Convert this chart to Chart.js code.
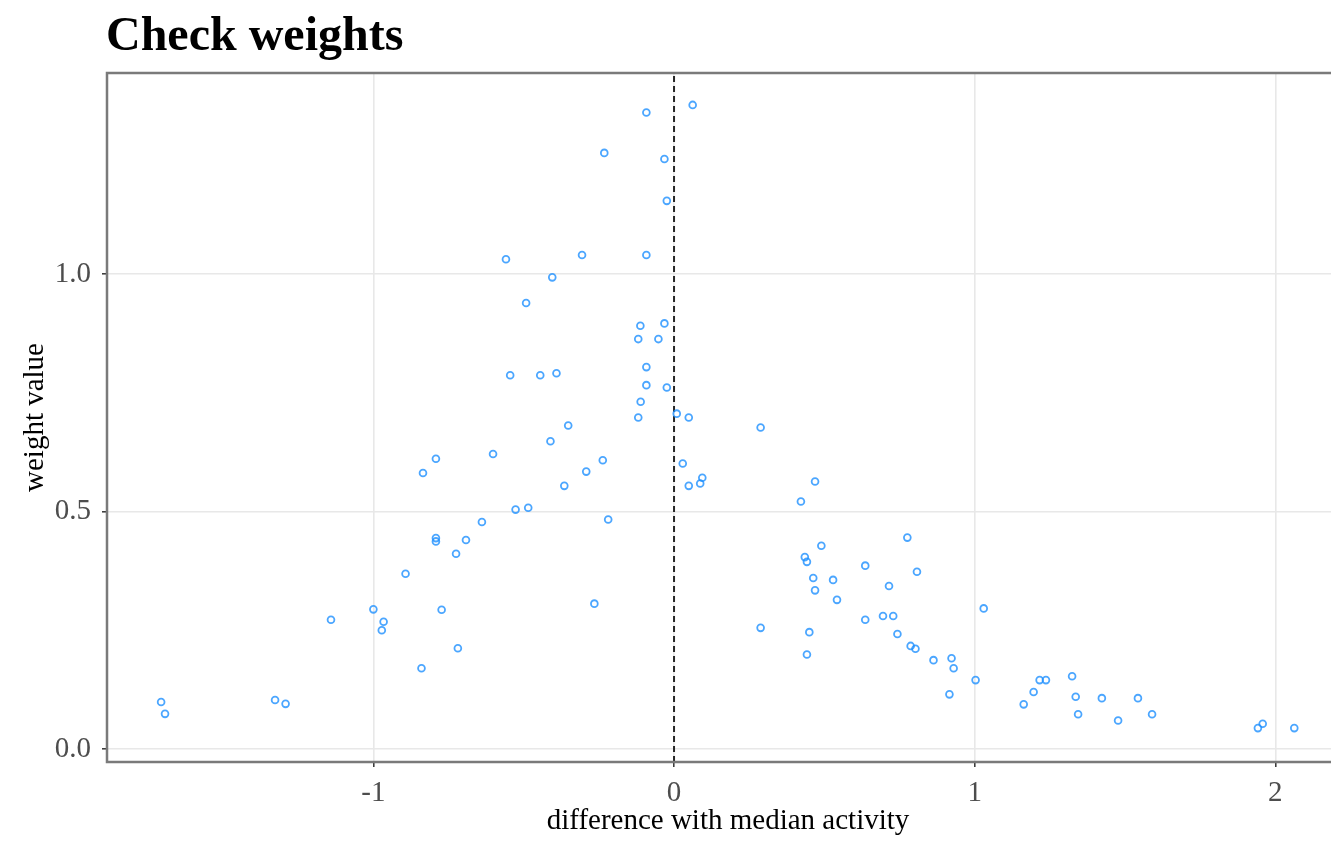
<!DOCTYPE html>
<html>
<head>
<meta charset="utf-8">
<title>Check weights</title>
<script src="https://cdn.jsdelivr.net/npm/chart.js@4.4.1/dist/chart.umd.min.js"></script>
<style>
  html, body { margin: 0; padding: 0; background: #fff; overflow: hidden; }
  #chartBox { position: relative; width: 1349px; height: 847px; }
</style>
</head>
<body>
<div id="chartBox"><canvas id="myChartCanvas"></canvas></div>
<script>
// Chart values
const titleText = 'Check weights';
const xTitle = 'difference with median activity';
const yTitle = 'weight value';

const xTickValues = [-1, 0, 1, 2];
const yTickValues = [0.0, 0.5, 1.0];

// axis ranges (panel limits)
const xMin = -1.886, xMax = 2.245;
const yMin = -0.0274, yMax = 1.4232;

// difference with median activity
const diffValues = [
  -1.706, -1.693, -1.327, -1.292, -1.141, -1.000, -0.966, -0.972, -0.893, -0.840,
  -0.835, -0.792, -0.792, -0.792, -0.773, -0.725, -0.719, -0.692, -0.639, -0.602,
  -0.559, -0.545, -0.527, -0.492, -0.485, -0.445, -0.411, -0.405, -0.391, -0.365,
  -0.352, -0.306, -0.292, -0.265, -0.237, -0.232, -0.219, -0.119, -0.111, -0.119,
  -0.112, -0.092, -0.092, -0.092, -0.092, -0.052, -0.032, -0.032, -0.024, -0.024,
  0.009, 0.049, 0.062, 0.029, 0.049, 0.087, 0.094, 0.288, 0.288, 0.422,
  0.435, 0.442, 0.469, 0.450, 0.442, 0.463, 0.469, 0.490, 0.529, 0.542,
  0.636, 0.636, 0.695, 0.715, 0.729, 0.743, 0.776, 0.787, 0.803, 0.808,
  0.863, 0.916, 0.923, 0.930, 1.003, 1.030, 1.163, 1.196, 1.216, 1.237,
  1.324, 1.336, 1.344, 1.423, 1.477, 1.543, 1.590, 1.942, 1.958, 2.063
];

// weight value
const weightValues = [
  0.099, 0.074, 0.103, 0.095, 0.272, 0.294, 0.268, 0.250, 0.369, 0.170,
  0.581, 0.611, 0.444, 0.437, 0.293, 0.411, 0.212, 0.440, 0.478, 0.621,
  1.031, 0.787, 0.504, 0.939, 0.508, 0.787, 0.648, 0.993, 0.791, 0.554,
  0.681, 1.040, 0.584, 0.306, 0.608, 1.255, 0.483, 0.698, 0.731, 0.863,
  0.891, 1.040, 1.340, 0.804, 0.766, 0.863, 0.896, 1.242, 1.154, 0.761,
  0.706, 0.698, 1.356, 0.601, 0.554, 0.559, 0.571, 0.677, 0.255, 0.521,
  0.404, 0.394, 0.563, 0.246, 0.199, 0.360, 0.334, 0.428, 0.356, 0.314,
  0.386, 0.272, 0.280, 0.343, 0.280, 0.242, 0.445, 0.217, 0.211, 0.373,
  0.187, 0.115, 0.191, 0.170, 0.145, 0.296, 0.094, 0.120, 0.145, 0.145,
  0.153, 0.110, 0.073, 0.107, 0.060, 0.107, 0.073, 0.044, 0.053, 0.044
];

// vertical reference line at the median (x = 0)
const medianX = 0;

const serif = '"Liberation Serif", "Times New Roman", serif';

// Draw the full panel border (top/right too, like ggplot theme_bw)
const panelBorder = {
  id: 'panelBorder',
  afterDatasetsDraw(chart) {
    const { ctx, chartArea: a } = chart;
    ctx.save();
    ctx.strokeStyle = '#7a7a7a';
    ctx.lineWidth = 2.5;
    ctx.strokeRect(a.left, a.top, a.right - a.left, a.bottom - a.top);
    ctx.restore();
  }
};

// Title sits flush with the panel's left edge
const plotTitle = {
  id: 'plotTitle',
  afterDraw(chart) {
    const ctx = chart.ctx;
    ctx.save();
    ctx.font = 'bold 48px ' + serif;
    ctx.fillStyle = '#000';
    ctx.textBaseline = 'alphabetic';
    ctx.textAlign = 'left';
    ctx.fillText(titleText, chart.chartArea.left - 1, 50);
    ctx.restore();
  }
};

function getChartConfig() {
  const points = diffValues.map((d, i) => ({ x: d, y: weightValues[i] }));

  return {
    type: 'scatter',
    plugins: [panelBorder, plotTitle],
    data: {
      datasets: [
        {
          label: 'weights',
          data: points,
          pointStyle: 'circle',
          pointRadius: 3.4,
          pointHoverRadius: 3.4,
          pointBorderWidth: 1.8,
          pointBorderColor: 'rgba(30, 144, 255, 0.8)',
          pointBackgroundColor: 'rgba(0, 0, 0, 0)',
        },
        {
          type: 'line',
          label: 'median',
          data: [{ x: medianX, y: yMin }, { x: medianX, y: yMax }],
          borderColor: '#262626',
          borderWidth: 2,
          borderDash: [6, 4],
          pointRadius: 0,
          fill: false,
        },
      ],
    },
    options: {
      responsive: true,
      maintainAspectRatio: false,
      animation: false,
      layout: {
        autoPadding: false,
        padding: { top: 73, left: 0, right: 0, bottom: 0 },
      },
      plugins: {
        legend: { display: false },
        tooltip: { enabled: false },
        title: { display: false },
      },
      scales: {
        x: {
          type: 'linear',
          min: xMin,
          max: xMax,
          afterFit: (scale) => { scale.height = 85; },
          afterBuildTicks: (scale) => {
            scale.ticks = xTickValues.map((v) => ({ value: v }));
          },
          border: { display: false },
          grid: {
            color: '#e8e8e8',
            lineWidth: 1.6,
            drawTicks: true,
            tickLength: 5,
            tickColor: '#333333',
            tickWidth: 1.5,
          },
          ticks: {
            padding: 9,
            color: '#4d4d4d',
            font: { family: serif, size: 29 },
            callback: (value) => String(value),
          },
          title: {
            display: true,
            text: xTitle,
            color: '#000',
            font: { family: serif, size: 29 },
            padding: { top: 0, bottom: 8 },
          },
        },
        y: {
          type: 'linear',
          min: yMin,
          max: yMax,
          afterFit: (scale) => { scale.width = 107; },
          afterBuildTicks: (scale) => {
            scale.ticks = yTickValues.map((v) => ({ value: v }));
          },
          border: { display: false },
          grid: {
            color: '#e8e8e8',
            lineWidth: 1.6,
            drawTicks: true,
            tickLength: 5,
            tickColor: '#333333',
            tickWidth: 1.5,
          },
          ticks: {
            padding: 11,
            color: '#4d4d4d',
            font: { family: serif, size: 29 },
            callback: (value) => Number(value).toFixed(1),
          },
          title: {
            display: true,
            text: yTitle,
            color: '#000',
            font: { family: serif, size: 29 },
            padding: { top: 18, bottom: 0 },
          },
        },
      },
    },
  };
}

const canvas = document.getElementById('myChartCanvas');
const myChart = new Chart(canvas, getChartConfig());
</script>
</body>
</html>
